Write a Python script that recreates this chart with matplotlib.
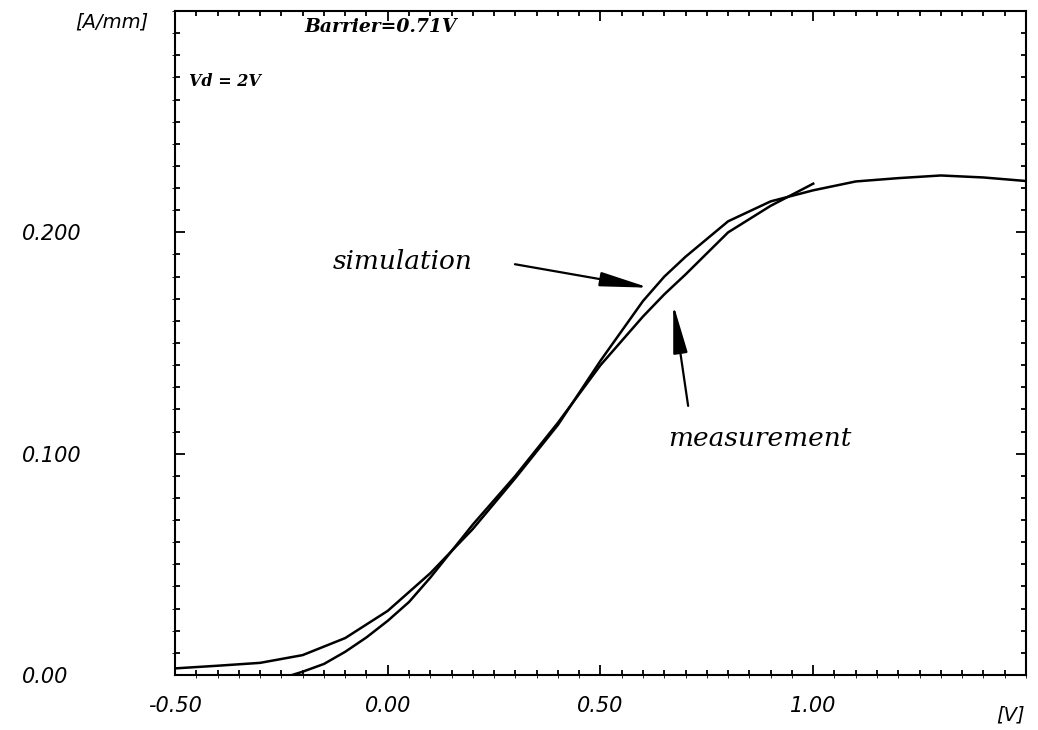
import matplotlib
matplotlib.use('Agg')
import matplotlib.pyplot as plt
from matplotlib.ticker import MultipleLocator

# simulation (gate voltage sweep)
sim_v = [-0.5, -0.4, -0.3, -0.2, -0.1, 0.0, 0.1, 0.2, 0.3, 0.4, 0.5,
         0.6, 0.65, 0.7, 0.8, 0.9, 1.0, 1.1, 1.2, 1.3, 1.4, 1.5]
sim_i = [0.003, 0.0042, 0.0055, 0.009, 0.0167, 0.029, 0.046, 0.066, 0.089, 0.113, 0.142,
         0.169, 0.180, 0.189, 0.205, 0.214, 0.219, 0.223, 0.2245, 0.2257, 0.2248, 0.2232]

# measurement
meas_v = [-0.225, -0.2, -0.15, -0.1, -0.05, 0.0, 0.05, 0.1, 0.2, 0.3, 0.4,
          0.5, 0.6, 0.65, 0.7, 0.8, 0.9, 1.0]
meas_i = [0.0, 0.0015, 0.005, 0.0105, 0.017, 0.0245, 0.033, 0.044, 0.068, 0.090, 0.114,
          0.140, 0.162, 0.172, 0.181, 0.200, 0.212, 0.222]

xticks = [-0.5, 0.0, 0.5, 1.0]
xlabels = ['-0.50', '0.00', '0.50', '1.00']
yticks = [0.0, 0.1, 0.2]
ylabels = ['0.00', '0.100', '0.200']

fig = plt.figure(figsize=(10.38, 7.30), dpi=100)
ax = fig.add_axes([0.1686, 0.0753, 0.8198, 0.9096])

ax.plot(sim_v, sim_i, color='black', lw=1.8)
ax.plot(meas_v, meas_i, color='black', lw=1.8)

ax.set_xlim(-0.5, 1.5)
ax.set_ylim(0.0, 0.3)

# ticks: majors every 0.25 / 0.05, minors 0.05 / 0.01, all inward on four sides
ax.xaxis.set_major_locator(MultipleLocator(0.25))
ax.xaxis.set_minor_locator(MultipleLocator(0.05))
ax.yaxis.set_major_locator(MultipleLocator(0.05))
ax.yaxis.set_minor_locator(MultipleLocator(0.01))
ax.tick_params(which='both', direction='in', top=True, right=True,
               labelbottom=False, labelleft=False, width=1.3)
ax.tick_params(which='major', length=7)
ax.tick_params(which='minor', length=3.5)
for s in ax.spines.values():
    s.set_linewidth(1.5)

# tick labels drawn on a twin set of axes so they sit only at the labelled values
lab = fig.add_axes(ax.get_position(), frameon=False, sharex=ax, sharey=ax)
lab.set_xticks(xticks)
lab.set_xticklabels(xlabels, fontsize=15, style='italic')
lab.set_yticks(yticks)
lab.set_yticklabels(ylabels, fontsize=15, style='italic', ha='left')
lab.tick_params(axis='both', length=0)
lab.tick_params(axis='x', pad=15)
lab.tick_params(axis='y', pad=110)
lab.set_xlim(-0.5, 1.5)
lab.set_ylim(0.0, 0.3)

fig.text(0.072, 0.970, '[A/mm]', fontsize=14, style='italic', va='center', ha='left')
fig.text(0.9875, 0.0205, '[V]', fontsize=14, style='italic', va='center', ha='right')

ax.text(-0.195, 0.293, 'Barrier=0.71V', fontsize=13.5, style='italic', weight='bold',
        family='DejaVu Serif', va='center', ha='left')
ax.text(-0.466, 0.268, 'Vd = 2V', fontsize=11.5, style='italic', weight='bold',
        family='DejaVu Serif', va='center', ha='left')

ax.text(-0.129, 0.187, 'simulation', fontsize=19, style='italic',
        family='DejaVu Serif', va='center', ha='left')
ax.text(0.659, 0.107, 'measurement', fontsize=19, style='italic',
        family='DejaVu Serif', va='center', ha='left')

arrow = dict(arrowstyle='-|>,head_length=1.5,head_width=0.22',
             mutation_scale=20, color='black', lw=1.6, shrinkA=0, shrinkB=0)
ax.annotate('', xy=(0.614, 0.175), xytext=(0.299, 0.1856), arrowprops=arrow)
ax.annotate('', xy=(0.671, 0.1676), xytext=(0.706, 0.1216), arrowprops=arrow)

fig.savefig('out.png', dpi=100)
